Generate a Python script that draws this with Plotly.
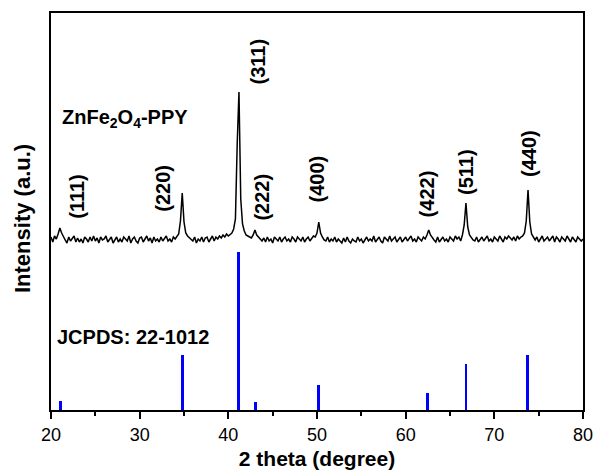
import numpy as np
import plotly.graph_objects as go

# 2-theta sampling grid (degree)
two_theta = np.round(np.arange(20.0, 80.0001, 0.2), 1)

# Measured XRD trace of ZnFe2O4-PPY (a.u., baseline ~0), one value per grid point
xrd_intensity = [
    2, -3, 3, 0, 5, 11, 6, 2, -1, -4, 2, -2, 1, 3, -3, 1, -3, 0, -4, 2,
    0, -3, 2, -2, 3, -2, 1, -4, 2, -1, 0, 3, -3, 0, 2, -4, -1, 2, -3, 0,
    -3, 2, 0, -2, 3, -4, 0, 2, -2, -4, 1, 2, -3, 0, 3, -2, 1, -4, 2, -2,
    0, -3, 2, -2, 1, 3, -2, 0, -3, 2, 0, 3, 5, 18, 46, 17, 6, 3, 1, -1,
    -2, 2, -4, 0, -2, 2, -3, 1, 2, -3, 0, 3, -2, 2, 0, 3, 1, 4, 2, 5,
    3, 5, 6, 10, 20, 95, 147, 40, 15, 8, 4, 3, 2, 1, 4, 9, 4, 2, -1, -2,
    1, -3, 2, -2, 0, -4, 2, 0, -2, 2, -3, 0, 2, -2, 0, -3, 2, 0, -3, 2,
    0, -2, 2, -3, 0, 2, -2, 0, 3, 2, 6, 17, 6, 2, -1, -2, 2, -3, 0, -2,
    2, -3, 0, -2, -4, 1, -3, 2, -2, -4, 0, -2, -3, 2, -2, 0, -4, -1, 2, -2,
    0, -2, 3, -3, 0, 2, -2, -4, 2, 0, -2, 3, -2, 0, 2, -3, 0, 2, -3, 0,
    2, -2, 0, 3, -2, 0, -3, 2, 0, -2, 2, 0, 4, 9, 4, 1, -1, -3, 2, -3,
    0, 2, -2, 0, -3, 2, 0, -2, 3, 0, 2, -2, 4, 14, 36, 12, 4, 1, -1, -2,
    2, -3, 0, 2, -2, 0, 3, -2, 0, -3, 2, 0, -2, 3, 0, -3, 2, 0, 3, 1,
    -1, 2, -2, 3, 0, 2, 3, 6, 18, 49, 17, 5, 2, -1, 2, -3, 0, 3, -2, 0,
    2, -2, 0, 3, -3, 2, 0, -3, 2, 0, -2, 3, 0, -3, 2, 0, -3, 2, 0, -2,
    0,
]

# JCPDS 22-1012 reference lines
ref_pos = [21.1, 34.8, 41.1, 43.1, 50.2, 62.5, 66.8, 73.75]
ref_rel = [6, 35, 100, 5, 16, 11, 29, 35]

# Miller index labels
hkl_labels = ["(111)", "(220)", "(311)", "(222)", "(400)", "(422)", "(511)", "(440)"]
hkl_x = [22.9, 32.6, 43.4, 43.75, 50.05, 62.45, 66.8, 73.9]
hkl_y = [42, 51, 178, 42, 60, 45, 67, 86]

FONT = "Liberation Sans, Arial, sans-serif"

fig = go.Figure()
fig.add_trace(go.Scatter(
    x=two_theta, y=xrd_intensity, mode="lines",
    line=dict(color="black", width=1.5), yaxis="y", showlegend=False,
))
fig.add_trace(go.Bar(
    x=ref_pos, y=ref_rel, width=0.32, marker=dict(color="#0000ff", line=dict(width=0)),
    yaxis="y2", showlegend=False,
))

for t, xx, yy in zip(hkl_labels, hkl_x, hkl_y):
    fig.add_annotation(x=xx, y=yy, xref="x", yref="y", text="<b>%s</b>" % t,
                       textangle=-90, showarrow=False, xanchor="center", yanchor="middle",
                       font=dict(family=FONT, size=20, color="black"))

fig.add_annotation(x=21.0, y=121, xref="x", yref="y", text="<b>ZnFe<sub>2</sub>O<sub>4</sub>-PPY</b>",
                   showarrow=False, xanchor="left", yanchor="middle",
                   font=dict(family=FONT, size=20, color="black"))
fig.add_annotation(x=20.45, y=-98, xref="x", yref="y", text="<b>JCPDS: 22-1012</b>",
                   showarrow=False, xanchor="left", yanchor="middle",
                   font=dict(family=FONT, size=20, color="black"))
# y-axis title (placed slightly below the plot centre, as in the original)
fig.add_annotation(x=-0.0545, y=(410 - 219) / 397, xref="paper", yref="paper",
                   text="<b>Intensity (a.u.)</b>", textangle=-90, showarrow=False,
                   xanchor="center", yanchor="middle",
                   font=dict(family=FONT, size=22, color="black"))

fig.update_layout(
    width=595, height=473,
    margin=dict(l=51, r=12, t=13, b=63, autoexpand=False),
    paper_bgcolor="white", plot_bgcolor="white",
    font=dict(family=FONT, color="black"),
    bargap=0,
    xaxis=dict(
        range=[20, 80], dtick=10, tick0=20, ticks="outside", ticklen=7, tickwidth=1.5,
        tickcolor="black", showline=True, linecolor="black", linewidth=2, mirror=True,
        showgrid=False, zeroline=False, automargin=False,
        tickfont=dict(family=FONT, size=18, color="black"),
        minor=dict(dtick=5, ticks="outside", ticklen=4, tickcolor="black", tickwidth=1.5),
        title=dict(text="<b>2 theta (degree)</b>", font=dict(family=FONT, size=21, color="black"), standoff=8),
    ),
    yaxis=dict(
        range=[-171, 226], showticklabels=False, ticks="", showgrid=False, zeroline=False,
        showline=True, linecolor="black", linewidth=2, mirror=True, automargin=False,
    ),
    yaxis2=dict(
        range=[0, 251.3], overlaying="y", showticklabels=False, ticks="", showgrid=False,
        zeroline=False, showline=False,
    ),
)

fig.write_html("out.html")
